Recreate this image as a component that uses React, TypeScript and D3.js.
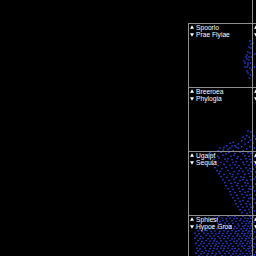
import * as d3 from "d3"
import { useRef, useEffect } from "react"

// panel grid: col, row, legend labels (right column labels fall outside the view)
const panelCols = [0, 0, 0, 0, 1, 1, 1, 1, 1]
const panelRows = [0, 1, 2, 3, -1, 0, 1, 2, 3]
const upLabels = ["Spoorlo", "Breeroea", "Ugaipt", "Sphiesi", "Vantosa", "Ocrelia", "Turbeni", "Galsoma", "Prenuvi"]
const downLabels = ["Prae Flyiae", "Phylogia", "Sequia", "Hypoe Groa", "Lomaria", "Dessula", "Cravio", "Mirtusa", "Obelida"]

// points per panel, [x, y] on a 0-64 scale
const spoorloPts = [
  [62, 46], [61, 40], [63, 39], [60, 35], [62, 34], [59, 32], [61, 30], [63.5, 30], [59, 28], [61, 27],
  [60, 24], [57, 24], [62.5, 24], [59, 20], [62, 19], [57, 20], [63.5, 17], [60, 14], [62.5, 12], [56, 26],
  [60, 22], [63, 43], [59, 16], [61.5, 9], [58, 30],
]
const breeroeaPts = [
  [58.7, 15.3], [61.3, 13.7], [57, 12], [53.7, 10.3], [45.3, 8.7], [42, 7.7], [50.3, 7], [57, 7], [60.3, 8.7],
  [38.7, 5.3], [47, 5.3], [53.7, 4.3], [62, 4.3], [32, 3], [42, 3], [50.3, 3], [58.7, 2], [35.3, 1], [45.3, 0.3],
  [55.3, 0.3], [30.3, 0.3], [63, 19], [60, 20], [55, 14], [48, 4], [40, 1.5], [62.5, 11], [44, 5], [36, 3.5],
]
const ugaiptPts = [
  [22, 62.3], [27, 61.5], [33, 62.8], [38, 61.2], [41, 62.6], [47, 61.7], [52, 62.9], [55, 61.4], [60, 62.4], [63, 61.8],
  [24, 59.4], [30, 58.6], [35, 59.8], [43, 58.8], [46, 59.6], [50, 58.3], [57, 59.2], [61, 58.7],
  [21, 56.2], [26, 55.5], [31, 56.8], [37, 55.8], [40, 56.4], [44, 55.3], [49, 56.6], [53, 55.7], [58, 56.3], [62, 55.6],
  [28, 53.3], [33, 52.6], [39, 53.5], [45, 52.4], [48, 53.2], [55, 52.7], [59, 53.6], [63, 52.8],
  [25, 50.4], [30, 49.5], [36, 50.6], [42, 49.7], [47, 50.3], [51, 49.4], [56, 50.5], [61, 49.8],
  [27, 47.3], [34, 46.5], [38, 47.6], [44, 46.8], [49, 47.4], [53, 46.6], [58, 47.2], [62, 46.4],
  [29, 44.2], [32, 43.6], [40, 44.5], [46, 43.4], [51, 44.3], [55, 43.7], [60, 44.6], [63, 43.5],
  [31, 41.3], [36, 40.6], [42, 41.4], [45, 40.5], [50, 41.2], [57, 40.7], [61, 41.5],
  [33, 38.4], [39, 37.6], [44, 38.5], [48, 37.4], [53, 38.2], [56, 37.7], [62, 38.6],
  [35, 35.3], [41, 34.6], [46, 35.5], [52, 34.5], [55, 35.4], [59, 34.7], [63, 35.2],
  [37, 32.4], [43, 31.6], [47, 32.6], [50, 31.5], [57, 32.3], [60, 31.7],
  [38, 29.3], [44, 28.5], [49, 29.5], [54, 28.7], [58, 29.4], [62, 28.6],
  [40, 26.4], [45, 25.6], [51, 26.5], [55, 25.5], [61, 26.3], [63, 25.7],
  [42, 23.3], [47, 22.6], [52, 23.5], [57, 22.7], [60, 23.4],
  [43, 20.4], [49, 19.6], [54, 20.5], [59, 19.7], [62, 20.3],
  [45, 17.3], [50, 16.6], [56, 17.4], [61, 16.5], [63, 17.2],
  [47, 14.4], [52, 13.6], [55, 14.5], [60, 13.7],
  [48, 11.3], [53, 10.6], [58, 11.4], [62, 10.5],
  [50, 8.4], [55, 7.6], [59, 8.5], [63, 7.7],
  [52, 5.3], [57, 4.6], [61, 5.5],
  [54, 2.4], [59, 1.6], [62, 2.5],
]
const sphiesiPts = [
  [27, 63.2], [31, 62.6], [36, 63.4], [40, 62.7], [44, 63.1], [47, 62.4], [51, 63.3], [55, 62.8], [58, 63.5], [62, 62.6],
  [25, 60.8], [29, 60.1], [34, 60.9], [38, 60.3], [42, 61.0], [46, 60.2], [49, 60.7], [53, 60.0], [57, 60.9], [60, 60.4], [63, 60.7],
  [28, 58.3], [32, 57.6], [35, 58.5], [39, 57.8], [44, 58.2], [48, 57.5], [52, 58.4], [56, 57.7], [59, 58.1], [62, 57.5],
  [30, 55.8], [33, 55.1], [37, 55.9], [41, 55.3], [45, 55.7], [50, 55.0], [54, 55.8], [58, 55.2], [61, 55.9], [63.5, 55.3],
  [26, 53.2], [31, 52.6], [36, 53.4], [40, 52.8], [43, 53.3], [47, 52.5], [51, 53.1], [55, 52.7], [57, 53.4], [60, 52.6], [63, 53.0],
  [8, 50.8], [12, 50.1], [17, 50.7], [21, 50.2], [25, 50.9], [29, 50.3], [34, 50.6], [38, 50.0], [42, 50.8], [46, 50.4], [49, 50.9], [53, 50.1], [56, 50.6], [59, 50.2], [62, 50.8],
  [10, 48.3], [14, 47.6], [19, 48.4], [23, 47.8], [27, 48.1], [32, 47.5], [36, 48.3], [40, 47.7], [44, 48.4], [48, 47.6], [51, 48.2], [55, 47.8], [58, 48.5], [61, 47.7], [63.5, 48.1],
  [7, 45.8], [11, 45.2], [16, 45.9], [20, 45.3], [24, 45.7], [28, 45.1], [31, 45.8], [35, 45.4], [39, 45.9], [43, 45.2], [47, 45.6], [50, 45.0], [54, 45.7], [57, 45.3], [60, 45.9], [63, 45.2],
  [9, 43.3], [13, 42.6], [18, 43.4], [22, 42.8], [26, 43.2], [30, 42.5], [34, 43.3], [37, 42.7], [41, 43.4], [45, 42.6], [49, 43.1], [52, 42.8], [56, 43.5], [59, 42.7], [62, 43.2],
  [7, 40.8], [12, 40.2], [15, 40.9], [20, 40.3], [24, 40.7], [27, 40.1], [32, 40.8], [36, 40.4], [40, 40.9], [44, 40.2], [47, 40.6], [51, 40.0], [54, 40.7], [58, 40.3], [61, 40.9], [63.5, 40.4],
  [10, 38.3], [14, 37.6], [18, 38.4], [22, 37.8], [26, 38.2], [29, 37.5], [33, 38.3], [38, 37.7], [42, 38.4], [46, 37.6], [49, 38.1], [53, 37.8], [57, 38.5], [60, 37.7], [63, 38.2],
  [8, 35.8], [13, 35.2], [16, 35.9], [21, 35.3], [25, 35.7], [28, 35.1], [31, 35.8], [35, 35.4], [39, 35.9], [43, 35.2], [48, 35.6], [52, 35.0], [55, 35.7], [59, 35.3], [62, 35.9],
  [11, 33.3], [15, 32.6], [19, 33.4], [23, 32.8], [27, 33.2], [30, 32.5], [34, 33.3], [37, 32.7], [41, 33.4], [45, 32.6], [50, 33.1], [54, 32.8], [57, 33.5], [61, 32.7], [63.5, 33.2],
  [9, 30.8], [12, 30.2], [17, 30.9], [22, 30.3], [26, 30.7], [29, 30.1], [33, 30.8], [36, 30.4], [40, 30.9], [44, 30.2], [47, 30.6], [51, 30.0], [56, 30.7], [60, 30.3], [62, 30.9],
  [10, 28.3], [14, 27.6], [18, 28.4], [21, 27.8], [25, 28.2], [31, 27.5], [35, 28.3], [39, 27.7], [42, 28.4], [46, 27.6], [49, 28.1], [53, 27.8], [58, 28.5], [61, 27.7], [63.5, 28.2],
  [8, 25.8], [13, 25.2], [16, 25.9], [20, 25.3], [24, 25.7], [28, 25.1], [32, 25.8], [37, 25.4], [41, 25.9], [45, 25.2], [48, 25.6], [52, 25.0], [55, 25.7], [59, 25.3], [62, 25.9],
  [11, 23.3], [15, 22.6], [19, 23.4], [23, 22.8], [27, 23.2], [30, 22.5], [34, 23.3], [38, 22.7], [43, 23.4], [47, 22.6], [50, 23.1], [54, 22.8], [57, 23.5], [60, 22.7], [63, 23.2],
]
const vantosaPts: number[][] = []
const ocreliaPts = [[1, 44], [2.5, 20], [0.8, 12], [3, 33]]
const turbeniPts = [[1, 8], [2.5, 3], [0.5, 1], [3.5, 12], [2, 15]]
const galsomaPts = [
  [1, 62], [3, 58], [0.8, 54], [2.6, 50], [1.5, 46], [3.4, 43], [0.6, 40], [2.2, 36], [3.5, 31], [1.2, 28],
  [2.8, 24], [0.5, 20], [2, 16], [3.3, 12], [1, 8], [2.6, 4], [0.9, 1], [3.6, 60], [3.8, 48], [3.7, 38], [3.9, 20],
]
const prenuviPts = [
  [1, 62], [3, 60], [2, 57], [0.6, 55], [3.4, 53], [1.6, 50], [2.8, 47], [0.8, 45], [3.6, 42], [1.9, 40],
  [0.5, 37], [3, 35], [2, 32], [1, 29], [3.5, 27], [2.4, 24], [0.7, 23],
]
const panelPts = [spoorloPts, breeroeaPts, ugaiptPts, sphiesiPts, vantosaPts, ocreliaPts, turbeniPts, galsomaPts, prenuviPts]

const App = () => {
  const svgRef = useRef<SVGSVGElement>(null)
  const width = 256
  const height = 256
  const cell = 64
  const gridLeft = 188
  const gridTop = 23

  useEffect(() => {
    const svg = d3.select(svgRef.current)
    svg.selectAll("*").remove()
    svg.append("rect").attr("width", width).attr("height", height).attr("fill", "#000")

    panelPts.forEach((pts, i) => {
      const x0 = gridLeft + panelCols[i] * cell
      const y0 = gridTop + panelRows[i] * cell
      const x = d3.scaleLinear().domain([0, 64]).range([x0, x0 + cell])
      const y = d3.scaleLinear().domain([0, 64]).range([y0 + cell, y0])
      const g = svg.append("g")

      // points
      g.selectAll("rect.pt")
        .data(pts)
        .join("rect")
        .attr("class", "pt")
        .attr("x", (d) => x(d[0]) - 0.7)
        .attr("y", (d) => y(d[1]) - 0.7)
        .attr("width", 1.4)
        .attr("height", 1.4)
        .attr("fill", "#2f46ff")

      // frame
      g.append("rect")
        .attr("x", x0 + 0.5)
        .attr("y", y0 + 0.5)
        .attr("width", cell)
        .attr("height", cell)
        .attr("fill", "none")
        .attr("stroke", "#8f8f8f")
        .attr("stroke-width", 1)

      // legend
      const tri = d3.symbol().type(d3.symbolTriangle).size(7)
      g.append("path")
        .attr("d", tri())
        .attr("transform", `translate(${x0 + 4}, ${y0 + 4.6})`)
        .attr("fill", "#fff")
      g.append("path")
        .attr("d", tri())
        .attr("transform", `translate(${x0 + 4}, ${y0 + 11.4}) rotate(180)`)
        .attr("fill", "#fff")
      g.append("text")
        .attr("x", x0 + 8)
        .attr("y", y0 + 7.3)
        .attr("fill", "#fff")
        .attr("font-family", "Liberation Sans, Arial, sans-serif")
        .attr("font-size", "6.7px")
        .text(upLabels[i])
      g.append("text")
        .attr("x", x0 + 8)
        .attr("y", y0 + 14.3)
        .attr("fill", "#fff")
        .attr("font-family", "Liberation Sans, Arial, sans-serif")
        .attr("font-size", "6.7px")
        .text(downLabels[i])
    })
  }, [])

  return (
    <svg
      ref={svgRef}
      width={width}
      height={height}
      style={{ position: "fixed", left: 0, top: 0, display: "block" }}
    ></svg>
  )
}

export default App
